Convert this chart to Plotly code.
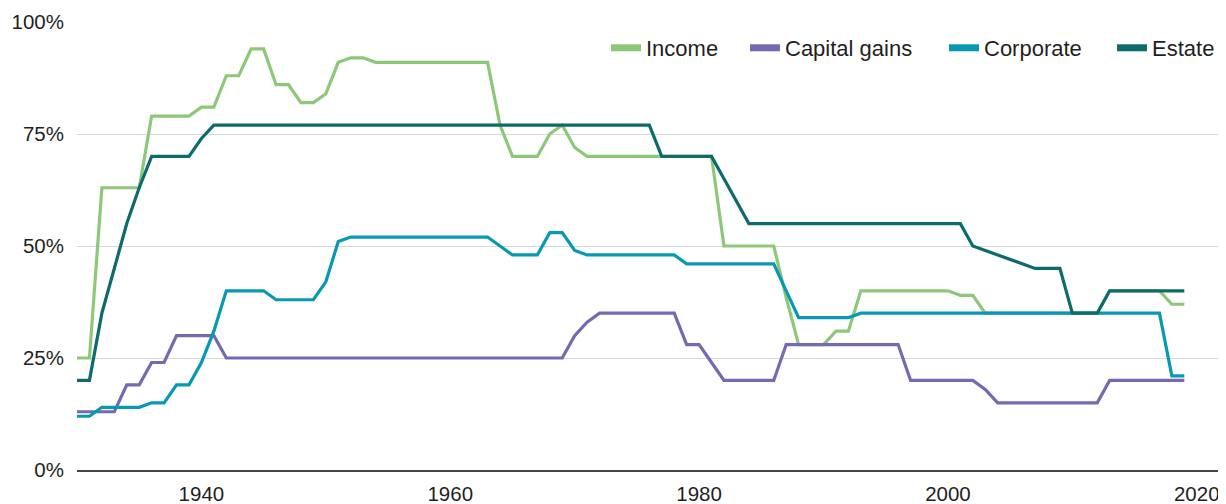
import plotly.graph_objects as go

years = list(range(1930, 2020))

income = [25, 25, 63, 63, 63, 63, 79, 79, 79, 79,
          81, 81, 88, 88, 94, 94, 86, 86, 82, 82,
          84, 91, 92, 92, 91, 91, 91, 91, 91, 91,
          91, 91, 91, 91, 77, 70, 70, 70, 75, 77,
          72, 70, 70, 70, 70, 70, 70, 70, 70, 70,
          70, 70, 50, 50, 50, 50, 50, 38.5, 28, 28,
          28, 31, 31, 40, 40, 40, 40, 40, 40, 40,
          40, 39, 39, 35, 35, 35, 35, 35, 35, 35,
          35, 35, 35, 40, 40, 40, 40, 40, 37, 37]

capital_gains = [13, 13, 13, 13, 19, 19, 24, 24, 30, 30,
                 30, 30, 25, 25, 25, 25, 25, 25, 25, 25,
                 25, 25, 25, 25, 25, 25, 25, 25, 25, 25,
                 25, 25, 25, 25, 25, 25, 25, 25, 25, 25,
                 30, 33, 35, 35, 35, 35, 35, 35, 35, 28,
                 28, 24, 20, 20, 20, 20, 20, 28, 28, 28,
                 28, 28, 28, 28, 28, 28, 28, 20, 20, 20,
                 20, 20, 20, 18, 15, 15, 15, 15, 15, 15,
                 15, 15, 15, 20, 20, 20, 20, 20, 20, 20]

corporate = [12, 12, 14, 14, 14, 14, 15, 15, 19, 19,
             24, 31, 40, 40, 40, 40, 38, 38, 38, 38,
             42, 51, 52, 52, 52, 52, 52, 52, 52, 52,
             52, 52, 52, 52, 50, 48, 48, 48, 53, 53,
             49, 48, 48, 48, 48, 48, 48, 48, 48, 46,
             46, 46, 46, 46, 46, 46, 46, 40, 34, 34,
             34, 34, 34, 35, 35, 35, 35, 35, 35, 35,
             35, 35, 35, 35, 35, 35, 35, 35, 35, 35,
             35, 35, 35, 35, 35, 35, 35, 35, 21, 21]

estate = [20, 20, 35, 45, 55, 63, 70, 70, 70, 70,
          74, 77, 77, 77, 77, 77, 77, 77, 77, 77,
          77, 77, 77, 77, 77, 77, 77, 77, 77, 77,
          77, 77, 77, 77, 77, 77, 77, 77, 77, 77,
          77, 77, 77, 77, 77, 77, 77, 70, 70, 70,
          70, 70, 65, 60, 55, 55, 55, 55, 55, 55,
          55, 55, 55, 55, 55, 55, 55, 55, 55, 55,
          55, 55, 50, 49, 48, 47, 46, 45, 45, 45,
          35, 35, 35, 40, 40, 40, 40, 40, 40, 40]

series_names = ["Income", "Capital gains", "Corporate", "Estate"]
series_values = [income, capital_gains, corporate, estate]
series_colors = ["#8DC878", "#7768B3", "#0798B3", "#0D6B6C"]

y_ticks = [0, 25, 50, 75, 100]
y_tick_labels = ["0%", "25%", "50%", "75%", "100%"]
x_ticks = [1940, 1960, 1980, 2000, 2020]
x_tick_labels = ["1940", "1960", "1980", "2000", "2020"]

FONT = "Arial, 'Liberation Sans', Helvetica, sans-serif"
TEXT = "#1f1f1f"

# the page body adds an 8px offset; the figure is sized to fill the rest
PAGE_OFFSET = 8
FIG_W, FIG_H = 1226 - PAGE_OFFSET, 504 - PAGE_OFFSET
M_L, M_T, M_B = 77 - PAGE_OFFSET, 22 - PAGE_OFFSET, 34
plot_width = FIG_W - M_L

fig = go.Figure()

for name, vals, col in zip(series_names, series_values, series_colors):
    fig.add_trace(go.Scatter(
        x=years, y=vals, mode="lines", name=name,
        line=dict(color=col, width=3.2),
        showlegend=False,
        hovertemplate="%{x}: %{y}%<extra>" + name + "</extra>",
    ))

# legend entries (one legend per entry for exact placement), page px of box left
legend_left_px = [606, 745, 944, 1112]
legend_ids = ["legend", "legend2", "legend3", "legend4"]
for name, col, lid in zip(series_names, series_colors, legend_ids):
    fig.add_trace(go.Scatter(
        x=[None], y=[None], mode="lines", name=name,
        line=dict(color=col, width=7),
        showlegend=True, legend=lid, hoverinfo="skip",
    ))

legend_common = dict(
    orientation="h", xanchor="left", yanchor="middle", y=0.942,
    bgcolor="rgba(0,0,0,0)", borderwidth=0,
    font=dict(family=FONT, size=22, color=TEXT),
    itemwidth=30,
)
layout_legends = {}
for lid, px in zip(legend_ids, legend_left_px):
    layout_legends[lid] = dict(x=(px - 77) / plot_width, **legend_common)

fig.update_layout(
    width=FIG_W, height=FIG_H,
    margin=dict(l=M_L, r=0, t=M_T, b=M_B, autoexpand=False),
    paper_bgcolor="white", plot_bgcolor="white",
    font=dict(family=FONT, size=20.5, color=TEXT),
    showlegend=True,
    **layout_legends,
)

fig.update_xaxes(
    range=[1930, 2022.35], automargin=False,
    tickmode="array", tickvals=x_ticks, ticktext=x_tick_labels,
    showgrid=False, zeroline=False,
    showline=True, linecolor="#444444", linewidth=1.6,
    ticks="", ticklabelstandoff=5,
    tickfont=dict(family=FONT, size=20.5, color=TEXT),
)
fig.update_yaxes(
    range=[0, 100], automargin=False,
    tickmode="array", tickvals=y_ticks, ticktext=y_tick_labels,
    showgrid=True, gridcolor="#d8d8d8", gridwidth=1.4,
    zeroline=False, showline=False,
    ticks="", ticklabelstandoff=12,
    tickfont=dict(family=FONT, size=20.5, color=TEXT),
)

fig.write_html("out.html")
